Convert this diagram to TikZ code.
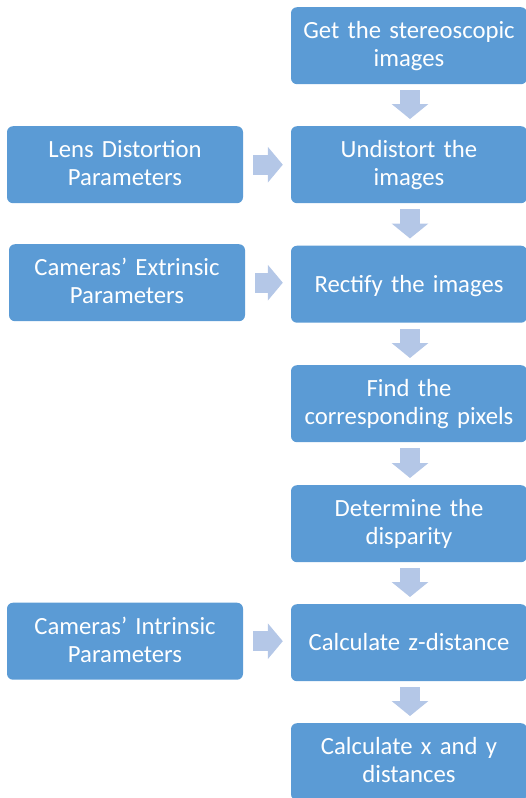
\documentclass[tikz,border=0pt]{standalone}
\usepackage{fontspec}
\setmainfont{Carlito}
\usetikzlibrary{arrows.meta}
\definecolor{boxblue}{HTML}{5B9BD5}
\definecolor{arrblue}{HTML}{B4C7E7}
\begin{document}
\begin{tikzpicture}[x=1pt,y=-1pt,
  box/.style={fill=boxblue, rounded corners=6pt, text width=236pt, inner sep=0pt,
    text=white, align=center, font=\fontsize{24.7}{28}\selectfont, anchor=north},
  twoline/.style={box, text height=31.5pt, text depth=45.5pt},
  oneline/.style={box, text height=46.5pt, text depth=30.5pt},
  downarr/.style={draw=arrblue, line width=20pt, -{Triangle[width=36pt,length=15pt]}},
  rightarr/.style={draw=arrblue, line width=20pt, -{Triangle[width=35pt,length=15pt]}}]
\useasboundingbox (0,0) rectangle (526,798);
\clip (0,0) rectangle (526,798);
\node[twoline] (b1) at (409,7) {Get the stereoscopic\\images};
\node[twoline] (b2) at (409,126) {Undistort the\\images};
\node[oneline] (b3) at (409,245.5) {Rectify the images};
\node[twoline] (b4) at (409,365) {Find the\\corresponding pixels};
\node[twoline] (b5) at (409,485) {Determine the\\disparity};
\node[oneline] (b6) at (409,604) {Calculate z-distance};
\node[twoline] (b7) at (409,723) {Calculate x and y\\distances};
\node[twoline] (l1) at (125,126) {Lens Distortion\\Parameters};
\node[twoline] (l2) at (127,244) {Cameras’ Extrinsic\\Parameters};
\node[twoline] (l3) at (125,602.5) {Cameras’ Intrinsic\\Parameters};
\foreach \a/\b in {b1/b2,b2/b3,b3/b4,b4/b5,b5/b6,b6/b7}
  \draw[downarr] ([xshift=1pt,yshift=-6pt]\a.south) -- ([xshift=1pt,yshift=7pt]\b.north);
\draw[rightarr] ([xshift=10pt]l1.east) -- ([xshift=-8pt]b2.west |- l1.east);
\draw[rightarr] ([xshift=10pt]l2.east) -- ([xshift=-8pt]b3.west |- l2.east);
\draw[rightarr] ([xshift=10pt]l3.east) -- ([xshift=-8pt]b6.west |- l3.east);
\end{tikzpicture}
\end{document}
